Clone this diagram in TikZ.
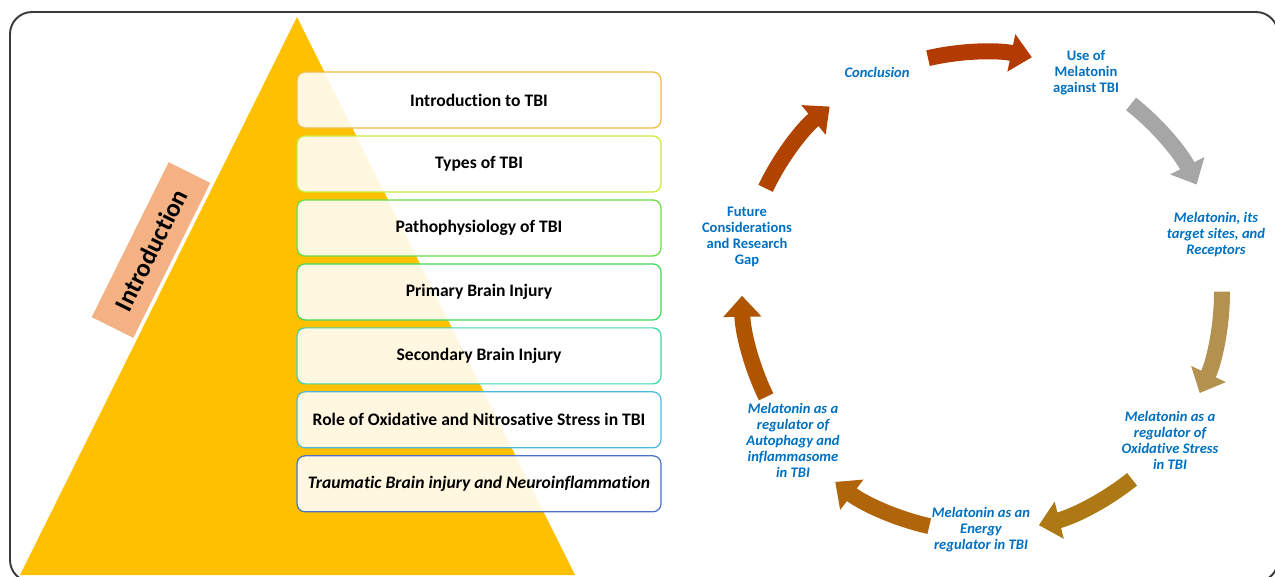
\documentclass[tikz,border=0pt]{standalone}
\usepackage{fontspec}
\setmainfont{Carlito}[Ligatures=NoCommon]
\usetikzlibrary{arrows.meta}
\usetikzlibrary{positioning}
\usetikzlibrary{calc}

\definecolor{framegray}{HTML}{3A3A3A}
\definecolor{pyramid}{HTML}{FFC000}
\definecolor{salmon}{HTML}{F4B183}
\definecolor{stageblue}{HTML}{0070C0}
\definecolor{edgeA}{HTML}{F4B942}
\definecolor{edgeB}{HTML}{C8EB3C}
\definecolor{edgeC}{HTML}{66DD44}
\definecolor{edgeD}{HTML}{3FD65A}
\definecolor{edgeE}{HTML}{3CD6A8}
\definecolor{edgeF}{HTML}{4DB8DE}
\definecolor{edgeG}{HTML}{4A72C8}
\definecolor{cycA}{HTML}{B33A02}
\definecolor{cycB}{HTML}{A6A6A6}
\definecolor{cycC}{HTML}{B3924F}
\definecolor{cycD}{HTML}{AD7914}
\definecolor{cycE}{HTML}{B0650A}
\definecolor{cycF}{HTML}{AF5500}
\definecolor{cycG}{HTML}{B14300}

\begin{document}
\begin{tikzpicture}[x=0.02cm, y=-0.02cm,
  topic/.style={draw, rounded corners=0.16cm, line width=0.7pt, fill=white, fill opacity=0.88, text opacity=1,
    minimum width=7.28cm, minimum height=1.12cm, font=\fontsize{10}{12}\selectfont\bfseries},
  stage/.style={text=stageblue, align=center, font=\fontsize{8.3}{9.1}\selectfont\bfseries\itshape},
  stageup/.style={stage, font=\fontsize{8.3}{9.1}\selectfont\bfseries},
  cycarrow/.style={line width=0.32cm, -{Triangle[width=0.74cm,length=0.42cm]}}]
\clip (0,0) rectangle (1275,576);

%frame
\draw[line width=1.1pt, draw=framegray, rounded corners=0.44cm] (10,12) rectangle (1278,582);

%pyramid
\fill[pyramid] (297,17) -- (20,575) -- (575,575) -- cycle;

%side label
\node[fill=salmon, rotate=63.6, minimum width=3.46cm, minimum height=0.93cm,
  font=\fontsize{14.5}{16}\selectfont\bfseries] (intro) at (151,250) {Introduction};

%topic boxes
\node[topic, draw=edgeA] (t1) at (479,100) {Introduction to TBI};
\node[topic, draw=edgeB, below=0.135cm of t1] (t2) {Types of TBI};
\node[topic, draw=edgeC, below=0.135cm of t2] (t3) {Pathophysiology of TBI};
\node[topic, draw=edgeD, below=0.135cm of t3] (t4) {Primary Brain Injury};
\node[topic, draw=edgeE, below=0.135cm of t4] (t5) {Secondary Brain Injury};
\node[topic, draw=edgeF, below=0.135cm of t5] (t6) {Role of Oxidative and Nitrosative Stress in TBI};
\node[topic, draw=edgeG, below=0.135cm of t6] (t7) {\textit{Traumatic Brain injury and Neuroinflammation}};

%cycle labels
\node[stage] (concl) at (877,72) {Conclusion};
\node[stageup] (useof) at (1086,73) {Use of\\Melatonin\\against TBI};
\node[stage] (sites) at (1216,235) {Melatonin, its\\target sites, and\\Receptors};
\node[stage] (oxid) at (1170,440) {Melatonin as a\\regulator of\\Oxidative Stress\\in TBI};
\node[stage] (energy) at (981,530) {Melatonin as an\\Energy\\regulator in TBI};
\node[stage] (autoph) at (793,440) {Melatonin as a\\regulator of\\Autophagy and\\inflammasome\\in TBI};
\node[stageup] (future) at (747,237) {Future\\Considerations\\and Research\\Gap};

%cycle arrows
\coordinate (hub) at (982,292);
\foreach \t/\c [count=\i] in {-103/cycA, -51.6/cycB, -0.1/cycC, 51.3/cycD, 102.7/cycE, 154.1/cycF, 205.6/cycG} {
\coordinate (s\i) at ($(hub)+(\t:240)$);
\draw[cycarrow, draw=\c] (s\i) arc[start angle=\t, end angle=\t+25, radius=240];
}

\end{tikzpicture}
\end{document}
